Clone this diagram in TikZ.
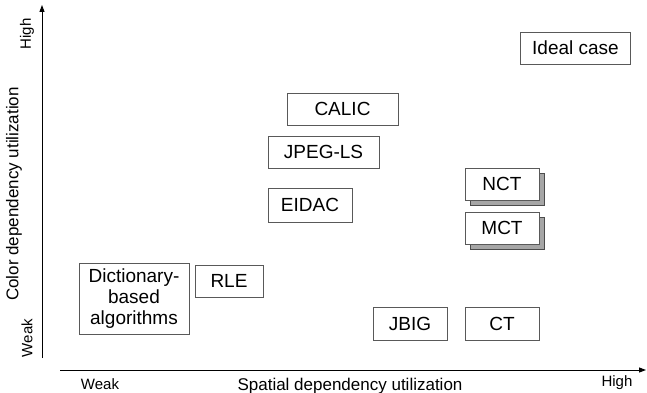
\documentclass[tikz,border=0pt]{standalone}
\usepackage{fontspec}
\setmainfont{Liberation Sans}
\usetikzlibrary{arrows.meta}
\begin{document}
\begin{tikzpicture}[x=1pt,y=-1pt,
  box/.style={draw=black!65, line width=0.8pt, fill=white, inner sep=0pt,
    font=\fontsize{19}{21}\selectfont, align=center},
  shadowbox/.style={draw=black!70, line width=0.8pt, fill=black!35, inner sep=0pt},
  axis/.style={line width=0.9pt, -{Triangle[length=7pt,width=5pt]}},
  tick/.style={font=\fontsize{15}{18}\selectfont, inner sep=0pt},
  vtick/.style={font=\fontsize{15}{18}\selectfont, inner sep=0pt, rotate=90},
  title/.style={font=\fontsize{17}{20}\selectfont, inner sep=0pt}]
\useasboundingbox (0,0) rectangle (647,393);

% axes
\coordinate (yo) at (42,358);
\coordinate (ytop) at (42,5);
\coordinate (xo) at (60,370);
\coordinate (xend) at (646,370);
\draw[axis] (yo) -- (ytop);
\draw[axis] (xo) -- (xend);

% axis labels
\node[vtick] (yhigh) at (27,34) {High};
\node[title, rotate=90] (ytitle) at (14,194) {Color dependency utilization};
\node[vtick] (yweak) at (27,338) {Weak};
\node[tick] (xweak) at (100,384) {Weak};
\node[title] (xtitle) at (350,386) {Spatial dependency utilization};
\node[tick] (xhigh) at (617,383) {High};

% methods
\node[box, minimum width=110, minimum height=32] (ideal) at (575.5,48) {Ideal case};
\node[box, minimum width=111, minimum height=32] (calic) at (342.5,109) {CALIC};
\node[box, minimum width=111, minimum height=32] (jpegls) at (323.5,152) {JPEG-LS};
\node[box, minimum width=84, minimum height=34] (eidac) at (310,205) {EIDAC};

\node[shadowbox, minimum width=74, minimum height=32] (nctback) at (507,189) {};
\node[box, minimum width=74, minimum height=32] (nct) at (502,184) {NCT};
\node[shadowbox, minimum width=74, minimum height=32] (mctback) at (507,233) {};
\node[box, minimum width=74, minimum height=32] (mct) at (502,228) {MCT};

\node[box, minimum width=110, minimum height=71] (dict) at (134,298.5) {Dictionary-\\based\\algorithms};
\node[box, minimum width=68, minimum height=32] (rle) at (229,281) {RLE};
\node[box, minimum width=74, minimum height=33] (jbig) at (410,323.5) {JBIG};
\node[box, minimum width=74, minimum height=33] (ct) at (502,323.5) {CT};
\end{tikzpicture}
\end{document}
